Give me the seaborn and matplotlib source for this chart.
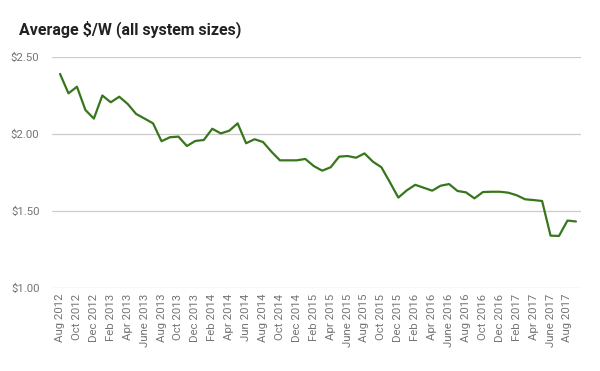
import pandas as pd
import matplotlib
matplotlib.use("Agg")
import matplotlib.pyplot as plt
import seaborn as sns

# Monthly average $/W, Aug 2012 .. Sep 2017
months = pd.date_range("2012-08-01", periods=62, freq="MS")
price = [2.39, 2.264, 2.307, 2.156, 2.10, 2.25, 2.206, 2.242, 2.195, 2.13,
         2.10, 2.069, 1.953, 1.979, 1.983, 1.922, 1.955, 1.961, 2.034, 2.004,
         2.021, 2.069, 1.94, 1.966, 1.948, 1.885, 1.829, 1.829, 1.829, 1.838,
         1.792, 1.762, 1.784, 1.853, 1.857, 1.846, 1.874, 1.82, 1.784, 1.687,
         1.587, 1.634, 1.670, 1.651, 1.632, 1.664, 1.675, 1.630, 1.621, 1.582,
         1.623, 1.625, 1.625, 1.619, 1.602, 1.576, 1.571, 1.565, 1.340, 1.338,
         1.438, 1.432]

tick_labels = ["Aug 2012", "Oct 2012", "Dec 2012", "Feb 2013", "Apr 2013", "June 2013",
               "Aug 2013", "Oct 2013", "Dec 2013", "Feb 2014", "Apr 2014", "Jun 2014",
               "Aug 2014", "Oct 2014", "Dec 2014", "Feb 2015", "Apr 2015", "June 2015",
               "Aug 2015", "Oct 2015", "Dec 2015", "Feb 2016", "Apr 2016", "June 2016",
               "Aug 2016", "Oct 2016", "Dec 2016", "Feb 2017", "Apr 2017", "June 2017",
               "Aug 2017"]
y_ticks = [1.0, 1.5, 2.0, 2.5]

df = pd.DataFrame({"idx": range(len(months)), "price": price})

sns.set_style("white")
plt.rcParams["font.family"] = ["Roboto", "DejaVu Sans"]

fig = plt.figure(figsize=(6, 3.71), dpi=100)
ax = fig.add_axes([52 / 600, 1 - 288 / 371, (581 - 52) / 600, (288 - 57) / 371])

sns.lineplot(data=df, x="idx", y="price", ax=ax, color="#38761d", linewidth=1.6)

ax.set_xlim(-0.95, 61.6)
ax.set_ylim(1.0, 2.5)
ax.set_yticks(y_ticks)
ax.set_yticklabels([f"${v:.2f}" for v in y_ticks])
ax.set_xticks(range(0, 62, 2))
ax.set_xticklabels(tick_labels, rotation=90)
ax.tick_params(axis="both", length=0, labelsize=8.2, colors="#757575")
ax.tick_params(axis="x", pad=4)
ax.tick_params(axis="y", pad=9)
ax.grid(axis="y", color="#cccccc", linewidth=0.9)
ax.set_axisbelow(True)
for s in ax.spines.values():
    s.set_visible(False)
ax.set_xlabel("")
ax.set_ylabel("")

fig.text(19 / 600, 1 - 29 / 371, "Average $/W (all system sizes)", fontsize=11.5,
         fontweight="bold", color="#212121", va="center", ha="left")

fig.savefig("out.png", dpi=100)
